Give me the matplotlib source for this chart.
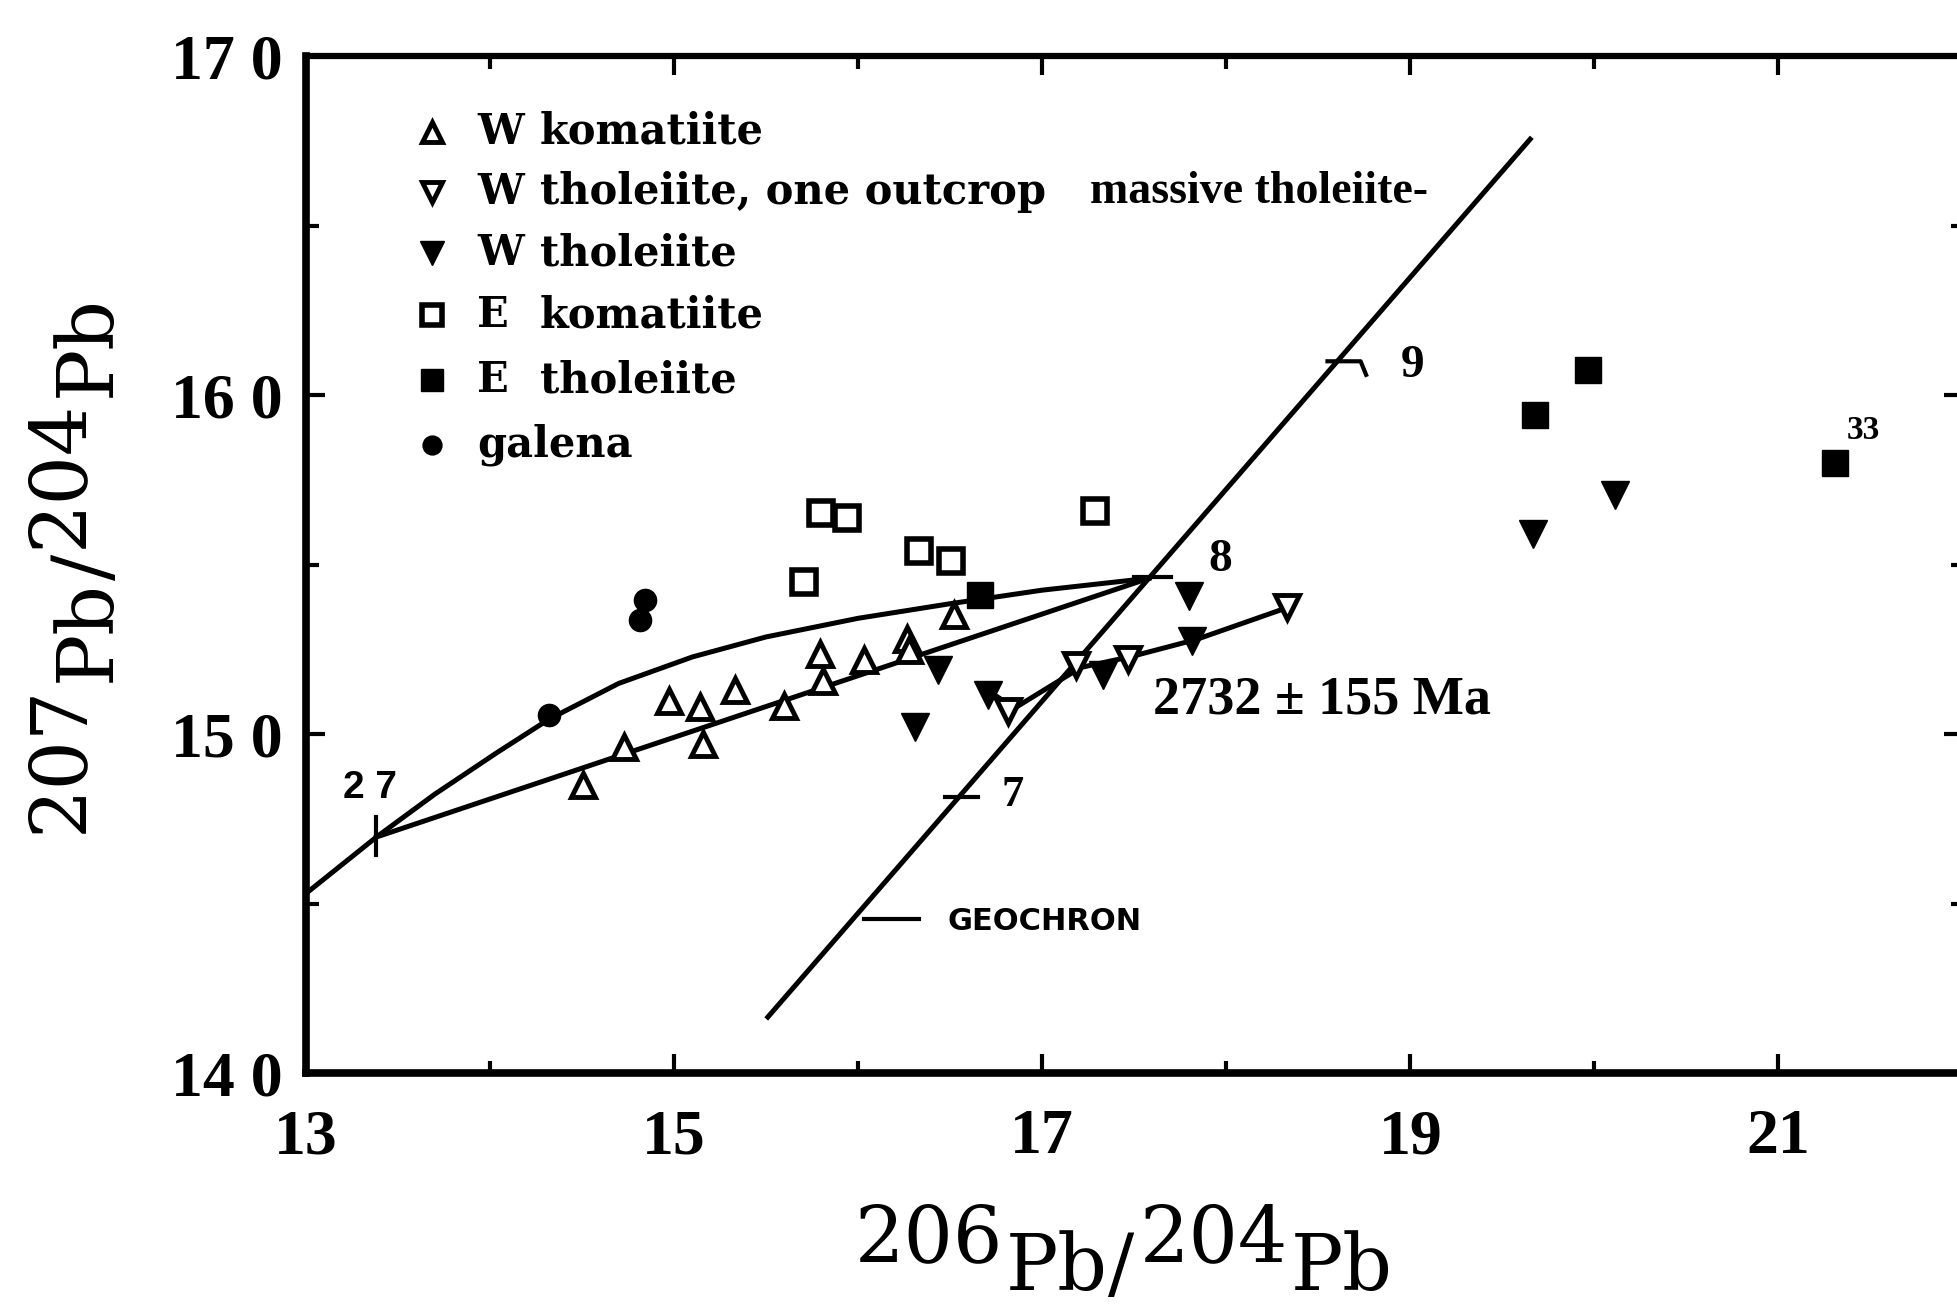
import matplotlib
matplotlib.use('Agg')
import matplotlib.pyplot as plt

plt.rcParams['font.family'] = 'DejaVu Serif'

# W komatiite (open triangles)
wk_x = [14.505, 14.729, 15.156, 14.973, 15.142, 15.332, 15.597, 15.807, 15.793, 16.031, 16.268, 16.275, 16.519]
wk_y = [14.851, 14.961, 14.972, 15.098, 15.079, 15.131, 15.083, 15.157, 15.238, 15.219, 15.282, 15.249, 15.352]
# W tholeiite, one outcrop (open inverted triangles)
wto_x = [16.817, 17.183, 17.468, 18.329]
wto_y = [15.068, 15.204, 15.223, 15.374]
# W tholeiite (filled inverted triangles)
wt_x = [16.708, 16.437, 16.308, 17.332, 17.800, 17.814, 19.664, 20.112]
wt_y = [15.116, 15.190, 15.020, 15.175, 15.407, 15.274, 15.591, 15.705]
# E komatiite (open squares)
ek_x = [15.705, 15.800, 15.942, 16.329, 16.505, 17.285]
ek_y = [15.448, 15.654, 15.639, 15.540, 15.510, 15.657]
# E tholeiite (filled squares)
et_x = [16.661, 19.678, 19.963, 21.305]
et_y = [15.411, 15.941, 16.074, 15.801]
# galena
gal_x = [14.322, 14.844, 14.817]
gal_y = [15.057, 15.396, 15.337]

# growth curve, chord from 27 to the geochron, geochron, 2732 Ma isochron
curve_x = [13.0, 13.384, 13.7, 14.036, 14.32, 14.7, 15.1, 15.5, 16.0, 16.5, 17.0, 17.58]
curve_y = [14.53, 14.697, 14.823, 14.945, 15.044, 15.150, 15.228, 15.287, 15.342, 15.385, 15.425, 15.46]
chord_x = [13.384, 17.58]
chord_y = [14.697, 15.46]
geo_x = [15.51, 19.651]
geo_y = [14.166, 16.755]
iso_x = [16.73, 16.85, 17.21, 17.49, 17.84, 18.35]
iso_y = [15.12, 15.077, 15.197, 15.23, 15.28, 15.377]

# age marks on the curves
marks = [([13.384, 13.384], [14.643, 14.755]),
         ([16.47, 16.65], [14.814, 14.814]),
         ([17.50, 17.70], [15.465, 15.465]),
         ([18.55, 18.73, 18.76], [16.10, 16.10, 16.06])]

xticks = [13, 15, 17, 19, 21]
yticks = [14, 15, 16, 17]
ytick_labels = ['14 0', '15 0', '16 0', '17 0']

fig = plt.figure(figsize=(19.57, 13.08), dpi=100)
ax = fig.add_axes([0.15625, 0.1794, 0.8466, 0.7777])
ax.set_xlim(13, 22)
ax.set_ylim(14, 17)

lw = 3.6
ax.plot(curve_x, curve_y, color='black', lw=lw, solid_joinstyle='round')
ax.plot(chord_x, chord_y, color='black', lw=lw)
ax.plot(geo_x, geo_y, color='black', lw=lw)
ax.plot(iso_x, iso_y, color='black', lw=lw, solid_joinstyle='round')
for mx, my in marks:
    ax.plot(mx, my, color='black', lw=3)

styles = {
    'wk': dict(marker='^', ms=17, mfc='white', mec='black', mew=3.5),
    'wto': dict(marker='v', ms=17, mfc='white', mec='black', mew=3.5),
    'wt': dict(marker='v', ms=20, mfc='black', mec='black'),
    'ek': dict(marker='s', ms=17, mfc='white', mec='black', mew=4),
    'et': dict(marker='s', ms=19, mfc='black', mec='black'),
    'gal': dict(marker='o', ms=16, mfc='black', mec='black'),
}
series = [('wk', wk_x, wk_y), ('wto', wto_x, wto_y), ('wt', wt_x, wt_y),
          ('ek', ek_x, ek_y), ('et', et_x, et_y), ('gal', gal_x, gal_y)]
for key, xs, ys in series:
    ax.plot(xs, ys, ls='none', zorder=3, **styles[key])

# legend drawn by hand
legend_rows = [('wk', 'W', 'komatiite'), ('wto', 'W', 'tholeiite, one outcrop'),
               ('wt', 'W', 'tholeiite'), ('ek', 'E', 'komatiite'),
               ('et', 'E', 'tholeiite'), ('gal', '', 'galena')]
row_y = [0.9256, 0.8667, 0.8063, 0.7453, 0.6814, 0.6175]
for (key, side, word), yy in zip(legend_rows, row_y):
    st = dict(styles[key])
    st['ms'] = st['ms'] * 0.85
    ax.plot([0.0761], [yy], transform=ax.transAxes, clip_on=False, **st)
    if side:
        ax.text(0.1033, yy, side, transform=ax.transAxes, fontsize=30,
                fontweight='bold', va='center', ha='left')
        ax.text(0.1413, yy, word, transform=ax.transAxes, fontsize=30,
                fontweight='bold', va='center', ha='left')
    else:
        ax.text(0.1033, yy, word, transform=ax.transAxes, fontsize=30,
                fontweight='bold', va='center', ha='left')
ax.text(0.4734, 0.8667, 'massive tholeiite-', transform=ax.transAxes,
        fontsize=33, family='Liberation Serif', fontweight='bold', va='center', ha='left')

# annotations
ax.text(13.348, 14.841, '2 7', fontsize=28, fontweight='bold', family='Liberation Sans',
        ha='center', va='center')
ax.text(16.78, 14.82, '7', fontsize=32, family='Liberation Serif', fontweight='bold',
        ha='left', va='center')
ax.text(17.967, 15.513, '8', fontsize=34, family='Liberation Serif', fontweight='bold',
        ha='center', va='center')
ax.text(19.01, 16.086, '9', fontsize=34, family='Liberation Serif', fontweight='bold',
        ha='center', va='center')
ax.text(21.46, 15.897, '33', fontsize=24, family='Liberation Serif', fontweight='bold',
        ha='center', va='center')
ax.text(17.603, 15.10, '2732 \u00b1 155 Ma', fontsize=39, family='Liberation Serif',
        fontweight='bold', ha='left', va='center')
ax.plot([16.03, 16.33], [14.455, 14.455], color='black', lw=3)
ax.text(16.484, 14.448, 'GEOCHRON', fontsize=22, family='DejaVu Sans', fontweight='bold',
        ha='left', va='center')

# ticks
ax.set_xticks(xticks, [str(t) for t in xticks])
ax.set_xticks([14, 16, 18, 20, 22], minor=True)
ax.set_yticks(yticks, ytick_labels)
ax.set_yticks([14.5, 15.5, 16.5], minor=True)
ax.tick_params(which='both', direction='in', top=True, right=True, width=3)
ax.tick_params(which='major', length=14)
ax.tick_params(which='minor', length=9)
ax.tick_params(axis='x', pad=26, labelsize=46, labelfontfamily='Liberation Serif')
ax.tick_params(axis='y', pad=17, labelsize=46, labelfontfamily='Liberation Serif')
for lab in ax.get_xticklabels() + ax.get_yticklabels():
    lab.set_fontweight('bold')
for side in ['left', 'bottom']:
    ax.spines[side].set_linewidth(5.5)
for side in ['top', 'right']:
    ax.spines[side].set_linewidth(4.5)


# axis labels: raised mass numbers, lowered element symbols, chained piece by piece
def chain_label(parts, x, y, vertical, size=56, drop=20):
    rot = 90 if vertical else 0
    prev = fig.text(x, y, parts[0][0], fontsize=size, rotation=rot,
                    rotation_mode='anchor', ha='left', va='baseline')
    prev_low = parts[0][1]
    for txt, low, gap in parts[1:]:
        down = (low - prev_low) * drop
        if vertical:
            prev = ax.annotate(txt, xy=(1, 1), xycoords=prev, xytext=(down, gap),
                               textcoords='offset points', fontsize=size, rotation=90,
                               ha='right', va='bottom')
        else:
            prev = ax.annotate(txt, xy=(1, 0), xycoords=prev, xytext=(gap, -down),
                               textcoords='offset points', fontsize=size,
                               ha='left', va='bottom')
        prev_low = low


chain_label([('206', 0, 0), ('Pb', 1, 2), ('/', 1, 0), ('204', 0, 4), ('Pb', 1, 2)],
            0.4369, 0.0352, vertical=False)
chain_label([('207', 0, 0), ('Pb', 1, 2), ('/', 1, 0), ('204', 0, 4), ('Pb', 1, 2)],
            0.0417, 0.363, vertical=True)

fig.savefig('out.png', dpi=100)
